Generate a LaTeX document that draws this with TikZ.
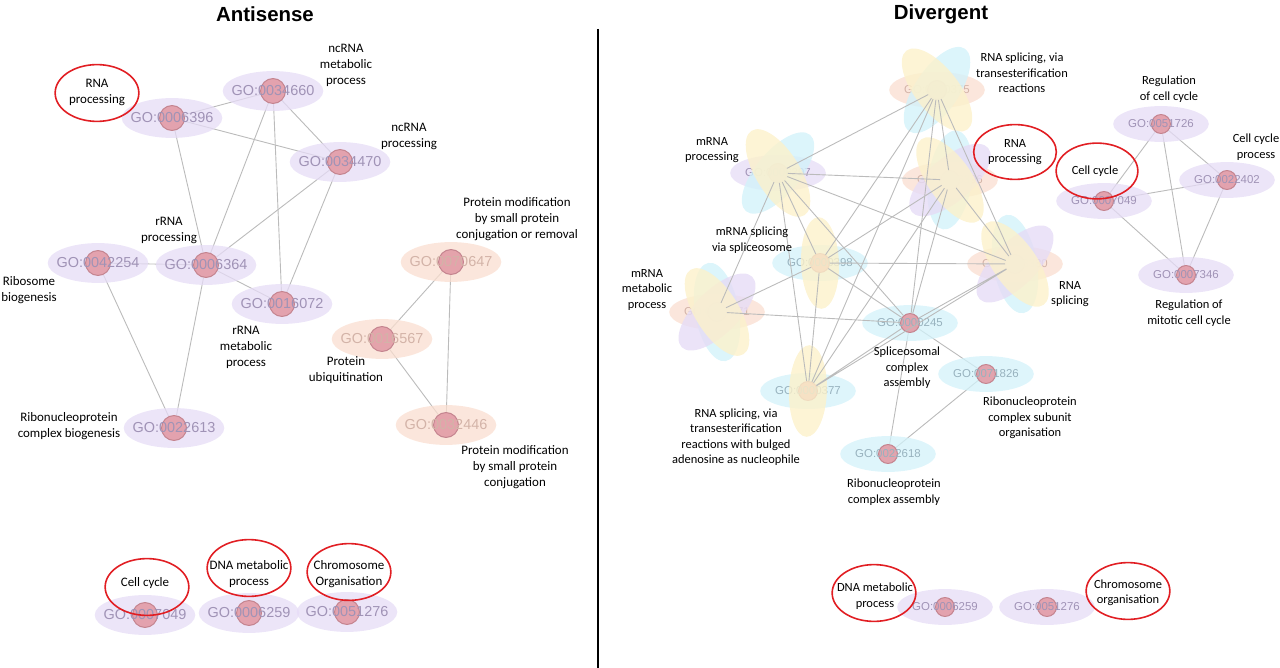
\documentclass[tikz,border=0pt]{standalone}
\usepackage{fontspec}
\setmainfont{Carlito}
\newfontfamily\goface{Liberation Sans}
\usepackage{tikz}
\usetikzlibrary{shapes.geometric, positioning, backgrounds}
\definecolor{lav}{HTML}{E6DCF6}
\definecolor{lavtext}{HTML}{A093B6}
\definecolor{peach}{HTML}{FADED0}
\definecolor{peachtext}{HTML}{D3B3A8}
\definecolor{sky}{HTML}{D3F2FA}
\definecolor{skytext}{HTML}{98B2BE}
\definecolor{butter}{HTML}{FCF1CB}
\definecolor{dotpink}{HTML}{E29CA6}
\definecolor{dotrim}{HTML}{C4848F}
\definecolor{hlred}{HTML}{E11E23}
\definecolor{edgegray}{HTML}{BBBBBB}
\tikzset{gobox/.style = {ellipse, minimum width=101pt, minimum height=40pt, inner sep=0pt, fill opacity=.75}}
\tikzset{gosmall/.style = {gobox, minimum width=96pt, minimum height=36pt}}
\tikzset{gotext/.style = {inner sep=0pt, font=\goface\fontsize{14.5}{16}\selectfont}}
\tikzset{gosmalltext/.style = {inner sep=0pt, font=\goface\fontsize{11.5}{13}\selectfont}}
\tikzset{dot/.style = {circle, minimum size=25pt, inner sep=0pt, fill=dotpink, draw=dotrim, line width=1pt, fill opacity=.9}}
\tikzset{smalldot/.style = {dot, minimum size=19pt}}
\tikzset{petal/.style = {ellipse, minimum width=100pt, minimum height=44pt, inner sep=0pt, fill opacity=.8}}
\tikzset{lbl/.style = {align=center, font=\fontsize{13}{16}\selectfont}}
\tikzset{rlbl/.style = {align=center, font=\fontsize{12.5}{15.5}\selectfont}}
\tikzset{hl/.style = {ellipse, draw=hlred, line width=1.6pt, minimum width=84pt, minimum height=57pt, inner sep=0pt}}
\tikzset{heading/.style = {font=\goface\bfseries\fontsize{20.5}{24}\selectfont}}

\begin{document}
\begin{tikzpicture}[x=1bp, y=-1bp]
	\tikzstyle{link}=[draw=edgegray, line width=.9pt]
	\useasboundingbox (0,0) rectangle (1280,668);
	\node[heading] (tanti) at (265,14) {Antisense};
	\node[heading] (tdiv) at (941,14) {Divergent};
	\draw[line width=1.5pt] (598,29) -- (598,668);

	\node[gobox, fill=lav] (a6396box) at (172,118) {};
	\node[gobox, fill=lav] (a34660box) at (273,91) {};
	\node[gobox, fill=lav] (a34470box) at (340,162) {};
	\node[gobox, fill=lav] (a42254box) at (98,263) {};
	\node[gobox, fill=lav] (a6364box) at (206,265) {};
	\node[gobox, fill=lav] (a16072box) at (282,304) {};
	\node[gobox, fill=peach] (a70647box) at (451,262) {};
	\node[gobox, fill=peach] (a16567box) at (382,339) {};
	\node[gobox, fill=lav] (a22613box) at (174,428) {};
	\node[gobox, fill=peach] (a32446box) at (446,425) {};
	\node[gobox, fill=lav] (a7049box) at (145,615) {};
	\node[gobox, fill=lav] (a6259box) at (249,613) {};
	\node[gobox, fill=lav] (a51276box) at (347,612) {};
	\node[dot, label={[gotext, text=lavtext]center:GO:0006396}] (a6396) at (a6396box) {};
	\node[dot, label={[gotext, text=lavtext]center:GO:0034660}] (a34660) at (a34660box) {};
	\node[dot, label={[gotext, text=lavtext]center:GO:0034470}] (a34470) at (a34470box) {};
	\node[dot, label={[gotext, text=lavtext]center:GO:0042254}] (a42254) at (a42254box) {};
	\node[dot, label={[gotext, text=lavtext]center:GO:0006364}] (a6364) at (a6364box) {};
	\node[dot, label={[gotext, text=lavtext]center:GO:0016072}] (a16072) at (a16072box) {};
	\node[dot, label={[gotext, text=peachtext]center:GO:0070647}] (a70647) at (a70647box) {};
	\node[dot, label={[gotext, text=peachtext]center:GO:0016567}] (a16567) at (a16567box) {};
	\node[dot, label={[gotext, text=lavtext]center:GO:0022613}] (a22613) at (a22613box) {};
	\node[dot, label={[gotext, text=peachtext]center:GO:0032446}] (a32446) at (a32446box) {};
	\node[dot, label={[gotext, text=lavtext]center:GO:0007049}] (a7049) at (a7049box) {};
	\node[dot, label={[gotext, text=lavtext]center:GO:0006259}] (a6259) at (a6259box) {};
	\node[dot, label={[gotext, text=lavtext]center:GO:0051276}] (a51276) at (a51276box) {};
	\begin{pgfonlayer}{background}
	\draw[link] (a6396) -- (a34660) (a6396) -- (a34470) (a6396) -- (a6364);
	\draw[link] (a34660) -- (a34470) (a34660) -- (a6364) (a34660) -- (a16072);
	\draw[link] (a34470) -- (a6364) (a34470) -- (a16072);
	\draw[link] (a42254) -- (a6364) (a42254) -- (a22613) (a6364) -- (a16072) (a6364) -- (a22613);
	\draw[link] (a70647) -- (a16567) (a70647) -- (a32446) (a16567) -- (a32446);
	\end{pgfonlayer}

	\node[lbl] (lncmet) at (346,65) {ncRNA\\metabolic\\process};
	\node[lbl] (lncproc) at (409,136) {ncRNA\\processing};
	\node[lbl] (lrproc) at (169,230) {rRNA\\processing};
	\node[lbl] (lribo) at (29,290) {Ribosome\\biogenesis};
	\node[lbl] (lrmet) at (246,347) {rRNA\\metabolic\\process};
	\node[lbl] (lpmodrem) at (517,219) {Protein modification\\by small protein\\conjugation or removal};
	\node[lbl] (lubiq) at (346,370) {Protein\\ubiquitination};
	\node[lbl] (lrnpbio) at (69,426) {Ribonucleoprotein\\complex biogenesis};
	\node[lbl] (lpmod) at (515,467) {Protein modification\\by small protein\\conjugation};
	\node[hl] (hlarna) at (97,93) {};
	\node[lbl] (hlarnatext) at (97,92) {RNA\\processing};
	\node[hl] (hlacell) at (147,587) {};
	\node[lbl] (hlacelltext) at (145,583) {Cell cycle};
	\node[hl] (hladna) at (249,568) {};
	\node[lbl] (hladnatext) at (249,574) {DNA metabolic\\process};
	\node[hl] (hlachrom) at (349,572) {};
	\node[lbl] (hlachromtext) at (349,574) {Chromosome\\Organisation};

	\node[gosmall, fill=peach] (d375box) at (937,90) {};
	\node[gosmall, fill=lav] (d397box) at (778,173) {};
	\node[gosmall, fill=peach] (d6396box) at (950,180) {};
	\node[gosmall, fill=sky] (d398box) at (820,263) {};
	\node[gosmall, fill=peach] (d8380box) at (1015,264) {};
	\node[gosmall, fill=peach] (d16071box) at (717,312) {};
	\node[gosmall, fill=sky] (d245box) at (910,323) {};
	\node[gosmall, fill=sky] (d377box) at (808,391) {};
	\node[gosmall, fill=sky] (d71826box) at (986,374) {};
	\node[gosmall, fill=sky] (d22618box) at (888,454) {};
	\node[gosmall, fill=lav] (d51726box) at (1161,124) {};
	\node[gosmall, fill=lav] (d22402box) at (1227,180) {};
	\node[gosmall, fill=lav] (d7049box) at (1104,201) {};
	\node[gosmall, fill=lav] (d7346box) at (1186,275) {};
	\node[gosmall, fill=lav] (d6259box) at (945,607) {};
	\node[gosmall, fill=lav] (d51276box) at (1047,607) {};
	\begin{pgfonlayer}{background}
	\draw[link] (d51726box.center) -- (d7049box.center) (d51726box.center) -- (d22402box.center) (d51726box.center) -- (d7346box.center);
	\draw[link] (d7049box.center) -- (d22402box.center) (d7049box.center) -- (d7346box.center) (d22402box.center) -- (d7346box.center);
	\draw[link] (d245box.center) -- (d71826box.center) (d245box.center) -- (d22618box.center) (d71826box.center) -- (d22618box.center);
	\end{pgfonlayer}
	\node[smalldot, label={[gosmalltext, text=peachtext]center:GO:0000375}] (d375) at (d375box) {};
	\node[smalldot, label={[gosmalltext, text=lavtext]center:GO:0006397}] (d397) at (d397box) {};
	\node[smalldot, label={[gosmalltext, text=peachtext]center:GO:0006396}] (d6396) at (d6396box) {};
	\node[smalldot, label={[gosmalltext, text=skytext]center:GO:0000398}] (d398) at (d398box) {};
	\node[smalldot, label={[gosmalltext, text=peachtext]center:GO:0008380}] (d8380) at (d8380box) {};
	\node[smalldot, label={[gosmalltext, text=peachtext]center:GO:0016071}] (d16071) at (d16071box) {};
	\node[smalldot, label={[gosmalltext, text=skytext]center:GO:0000245}] (d245) at (d245box) {};
	\node[smalldot, label={[gosmalltext, text=skytext]center:GO:0000377}] (d377) at (d377box) {};
	\node[smalldot, label={[gosmalltext, text=skytext]center:GO:0071826}] (d71826) at (d71826box) {};
	\node[smalldot, label={[gosmalltext, text=skytext]center:GO:0022618}] (d22618) at (d22618box) {};
	\node[smalldot, label={[gosmalltext, text=lavtext]center:GO:0051726}] (d51726) at (d51726box) {};
	\node[smalldot, label={[gosmalltext, text=lavtext]center:GO:0022402}] (d22402) at (d22402box) {};
	\node[smalldot, label={[gosmalltext, text=lavtext]center:GO:0007049}] (d7049) at (d7049box) {};
	\node[smalldot, label={[gosmalltext, text=lavtext]center:GO:0007346}] (d7346) at (d7346box) {};
	\node[smalldot, label={[gosmalltext, text=lavtext]center:GO:0006259}] (d6259) at (d6259box) {};
	\node[smalldot, label={[gosmalltext, text=lavtext]center:GO:0051276}] (d51276) at (d51276box) {};
	\node[petal, fill=sky, rotate=56] (d375c) at (d375) {};
	\node[petal, fill=butter, rotate=-52] (d375y) at (d375) {};
	\node[petal, fill=sky, rotate=50] (d397c) at (d397) {};
	\node[petal, fill=butter, rotate=-58] (d397y) at (d397) {};
	\node[petal, fill=sky, rotate=82] (d6396c) at (d6396) {};
	\node[petal, fill=lav, rotate=40] (d6396p) at (d6396) {};
	\node[petal, fill=butter, rotate=-55] (d6396y) at (d6396) {};
	\node[petal, fill=butter, rotate=92, minimum width=92pt, minimum height=38pt] (d398y) at (d398) {};
	\node[petal, fill=sky, rotate=100] (d8380c) at (d8380) {};
	\node[petal, fill=lav, rotate=45] (d8380p) at (d8380) {};
	\node[petal, fill=butter, rotate=-55] (d8380y) at (d8380) {};
	\node[petal, fill=sky, rotate=100] (d16071c) at (d16071) {};
	\node[petal, fill=lav, rotate=45] (d16071p) at (d16071) {};
	\node[petal, fill=butter, rotate=-58] (d16071y) at (d16071) {};
	\node[petal, fill=butter, rotate=88, minimum width=92pt, minimum height=38pt] (d377y) at (d377) {};
	\draw[link] (d375) -- (d397) (d375) -- (d398) (d375) -- (d377) (d375) -- (d245) (d375) -- (d6396) (d375) -- (d8380);
	\draw[link] (d397) -- (d6396) (d397) -- (d8380) (d397) -- (d398) (d397) -- (d377) (d397) -- (d16071) (d397) -- (d245);
	\draw[link] (d6396) -- (d398) (d6396) -- (d377) (d6396) -- (d245) (d6396) -- (d8380);
	\draw[link] (d398) -- (d8380) (d398) -- (d245) (d398) -- (d377) (d398) -- (d16071);
	\draw[link] (d8380) -- (d245) (d8380) -- (d377) (d16071) -- (d245) (d245) -- (d377);

	\node[rlbl] (rsplvia) at (1022,73) {RNA splicing, via\\transesterification\\reactions};
	\node[rlbl] (rmproc) at (712,150) {mRNA\\processing};
	\node[rlbl] (rregcc) at (1169,89) {Regulation\\of cell cycle};
	\node[rlbl] (rccproc) at (1256,147) {Cell cycle\\process};
	\node[rlbl] (rmspl) at (752,240) {mRNA splicing\\via spliceosome};
	\node[rlbl] (rmmet) at (647,290) {mRNA\\metabolic\\process};
	\node[rlbl] (rspl) at (1070,294) {RNA\\splicing};
	\node[rlbl] (rregmit) at (1189,313) {Regulation of\\mitotic cell cycle};
	\node[rlbl] (rspliceo) at (907,368) {Spliceosomal\\complex\\assembly};
	\node[rlbl] (rrnpsub) at (1030,418) {Ribonucleoprotein\\complex subunit\\organisation};
	\node[rlbl] (rbulged) at (736,437) {RNA splicing, via\\transesterification\\reactions with bulged\\adenosine as nucleophile};
	\node[rlbl] (rrnpasm) at (894,492) {Ribonucleoprotein\\complex assembly};
	\node[hl, minimum width=83pt, minimum height=55pt] (hldrna) at (1015,152) {};
	\node[rlbl] (hldrnatext) at (1015,152) {RNA\\processing};
	\node[hl, minimum width=82pt, minimum height=56pt] (hldcell) at (1097,171) {};
	\node[rlbl] (hldcelltext) at (1095,171) {Cell cycle};
	\node[hl] (hlddna) at (874,593) {};
	\node[rlbl] (hlddnatext) at (875,596) {DNA metabolic\\process};
	\node[hl] (hldchrom) at (1128,591) {};
	\node[rlbl] (hldchromtext) at (1128,593) {Chromosome\\organisation};
\end{tikzpicture}
\end{document}
